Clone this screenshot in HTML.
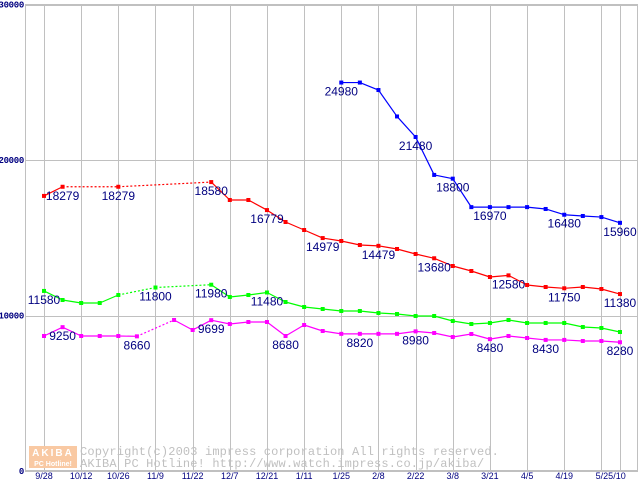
<!DOCTYPE html>
<html><head><meta charset="utf-8"><style>
html,body{margin:0;padding:0;background:#fff;}
svg{display:block;font-family:"Liberation Sans",sans-serif;}
</style></head><body>
<svg id="chart" width="640" height="480" viewBox="0 0 640 480" xmlns="http://www.w3.org/2000/svg">
<g id="grid"></g>
<g id="axes"></g>
<g id="watermark">
  <rect x="29" y="446" width="48" height="22" fill="#f9c9a3"/>
  <text x="53" y="456" font-size="10" font-weight="bold" fill="#fff" text-anchor="middle" letter-spacing="2">AKIBA</text>
  <text x="53" y="466" font-size="7" font-weight="bold" fill="#fff" text-anchor="middle">PC Hotline!</text>
  <text x="80" y="455" font-family="Liberation Mono, monospace" font-size="12" letter-spacing="0.15" fill="#c0c0c0">Copyright(c)2003 impress corporation All rights reserved.</text>
  <text x="80" y="467" font-family="Liberation Mono, monospace" font-size="12" letter-spacing="0.15" fill="#c0c0c0">AKIBA PC Hotline!  http://www.watch.impress.co.jp/akiba/</text>
</g>
<g id="series"></g>
<g id="labels"></g>
</svg>
<script>
const xLabels = ["9/28","10/12","10/26","11/9","11/22","12/7","12/21","1/11","1/25","2/8","2/22","3/8","3/21","4/5","4/19","5/25/10"];
const yTicks = [0,10000,20000,30000];
const blueValues = [null,null,null,null,null,null,null,null,null,null,null,null,null,null,null,null,24980,24980,24500,22800,21480,19040,18800,16970,16970,16970,16970,16850,16480,16400,16330,15960];
const redValues = [17690,18279,null,null,18279,null,null,null,null,18580,17428,17428,16779,16013,15498,14979,14791,14534,14479,14277,13955,13680,13183,12862,12476,12580,11961,11833,11750,11833,11704,11380];
const greenValues = [11580,10997,10804,10804,11318,null,11800,null,null,11980,11190,11318,11480,10868,10547,10418,10289,10289,10161,10096,9968,9968,9646,9453,9518,9711,9518,9518,9518,9260,9196,8939];
const magentaValues = [8682,9250,8682,8682,8682,8660,null,9711,9068,9699,9453,9582,9582,8680,9389,9003,8820,8820,8820,8820,8980,8875,8617,8810,8480,8682,8553,8430,8430,8360,8360,8280];
const blueLabelIdx = [16,20,22,24,28,31];
const redLabelIdx = [1,4,9,12,15,18,21,25,28,31];
const greenLabelIdx = [0,6,9,12];
const magentaLabelIdx = [1,5,9,13,17,20,24,27,31];

const NS="http://www.w3.org/2000/svg";
const X0=44, DX=18.58, Y0=471, K=0.01555;
function xs(i){return X0+DX*i;}
function ys(v){return Y0-v*K;}
function mk(tag,attrs,parent){const e=document.createElementNS(NS,tag);for(const k in attrs)e.setAttribute(k,attrs[k]);parent.appendChild(e);return e;}
const grid=document.getElementById('grid'), axes=document.getElementById('axes'), series=document.getElementById('series'), labels=document.getElementById('labels');
const fr=mk('rect',{x:25.5,y:4.5,width:612,height:466,fill:'none',stroke:'#c0c0c0'},grid);


yTicks.forEach(v=>{
  const y=Math.round(ys(v))+0.5;
  const l=mk('line',{x1:25,x2:638,y1:y,y2:y,stroke:'#c0c0c0'},grid);
  
  
  const t=mk('text',{x:24,y:ys(v)+3,'font-size':9,'font-weight':'bold','font-family':'Liberation Mono, monospace',fill:'#000080','text-anchor':'end','letter-spacing':'-0.3'},axes);
  t.textContent=v;
  
  
});
for(let k=0;k<=16;k++){
  const i = k<16 ? 2*k : 31;
  const x=Math.round(xs(i))+0.5;
  const l=mk('line',{x1:x,x2:x,y1:4,y2:471,stroke:'#c0c0c0'},grid);
  
  
}
xLabels.forEach((s,k)=>{
  const x = k<15 ? xs(2*k) : (xs(30)+xs(31))/2;
  const t=mk('text',{x:x,y:479,'font-size':9,fill:'#000080','text-anchor':'middle'},axes);
  t.textContent=s;
  
  
});
function drawSeries(vals,color,name,lblIdx){
  const g=mk('g',{},series);
  
  
  let prev=-1;
  vals.forEach((v,i)=>{
    if(v===null) return;
    if(prev>=0){
      const dotted = i-prev>1;
      const l=mk('line',{x1:xs(prev),y1:ys(vals[prev]),x2:xs(i),y2:ys(v),stroke:color,'stroke-width':1.2},g);
      if(dotted) l.setAttribute('stroke-dasharray','2,2');
      
      
    }
    prev=i;
  });
  vals.forEach((v,i)=>{
    if(v===null) return;
    const r=mk('rect',{x:xs(i)-2,y:ys(v)-2,width:4,height:4,fill:color},g);
    
    
  });
  lblIdx.forEach(i=>{
    const t=mk('text',{x:xs(i),y:ys(vals[i])+13,'font-size':12,fill:'#000080','text-anchor':'middle'},labels);
    t.textContent=vals[i];
    
    
  });
}
drawSeries(magentaValues,'#ff00ff','magenta',magentaLabelIdx);
drawSeries(greenValues,'#00ff00','green',greenLabelIdx);
drawSeries(redValues,'#ff0000','red',redLabelIdx);
drawSeries(blueValues,'#0000ff','blue',blueLabelIdx);
</script>
</body></html>
